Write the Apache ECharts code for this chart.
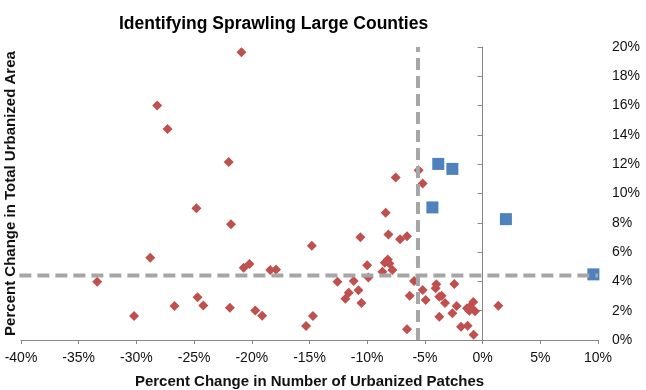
<!DOCTYPE html>
<html>
<head>
    <meta charset="UTF-8">
    <title>Identifying Sprawling Large Counties</title>
    <script src="https://cdn.jsdelivr.net/npm/echarts@6/dist/echarts.min.js"></script>
    <style>
    html, body { margin: 0; padding: 0; background: #fff; }
    #chart { width: 646px; height: 390px; }
    </style>
</head>
<body>
    <div id="chart"></div>
    <script type="text/javascript">
    // [patch change %, area change %]
    var otherCounties = [
        [-20.9, 19.65], [-28.2, 16.0], [-27.3, 14.4], [-22.0, 12.15], [-24.8, 9.0],
        [-21.8, 7.9], [-14.8, 6.43], [-28.8, 5.61], [-20.7, 4.93], [-20.2, 5.18],
        [-18.4, 4.77], [-17.9, 4.82], [-33.4, 3.97], [-24.7, 2.91], [-24.2, 2.36],
        [-26.7, 2.32], [-21.9, 2.2], [-19.7, 2.02], [-19.1, 1.66], [-30.2, 1.64],
        [-14.7, 1.64], [-15.3, 0.95],
        [-7.53, 11.09], [-5.54, 11.59], [-5.19, 10.68], [-8.4, 8.68], [-10.59, 7.02],
        [-8.16, 7.2], [-7.15, 6.88], [-6.55, 7.09], [-10.0, 5.11], [-8.48, 5.27],
        [-8.22, 5.5], [-8.08, 5.23], [-8.68, 4.66], [-7.82, 4.77], [-9.9, 4.27],
        [-12.58, 3.98], [-11.17, 4.02], [-5.94, 4.02], [-11.6, 3.22], [-10.76, 3.39],
        [-11.89, 2.82], [-10.5, 2.52], [-5.19, 3.41], [-6.32, 3.02], [-4.93, 2.73],
        [-4.01, 3.8], [-4.07, 3.54], [-2.45, 3.82], [-3.75, 2.95], [-3.55, 3.02],
        [-3.26, 2.52], [-2.25, 2.32], [-2.62, 1.82], [-3.75, 1.59], [-1.35, 2.16],
        [-1.09, 2.27], [-0.81, 2.59], [-0.66, 1.96], [-1.15, 2.0], [-1.87, 0.91],
        [-1.3, 0.98], [-0.78, 0.36], [-6.55, 0.73], [1.36, 2.34]
    ];
    var sprawlingCounties = [
        [-3.84, 12.02], [-2.62, 11.68], [-4.35, 9.05], [2.02, 8.25], [9.6, 4.48]
    ];

    // cutoff lines
    var cutoffX = -5.6;
    var cutoffY = 4.4;
    var hLineX = [-41.7, 10];
    var vLineY = [0, 20];

    var xRange = [-40, 10, 5];
    var yRange = [0, 20, 2];

    var chart = echarts.init(document.getElementById('chart'));
    var dash = {color: '#a6a6a6', width: 4, type: [12, 6]};
    var font = '"Liberation Sans", Arial, sans-serif';
    var axisGray = '#868686';

    var option = {
        animation: false,
        textStyle: {fontFamily: font},
        title: {
            text: 'Identifying Sprawling Large Counties',
            left: 114,
            top: 10,
            textStyle: {
                fontFamily: font,
                fontSize: 17.5,
                fontWeight: 'bold',
                color: '#000'
            }
        },
        grid: {left: 21, right: 48, top: 47, bottom: 50, outerBoundsMode: 'none'},
        xAxis: {
            type: 'value',
            min: xRange[0], max: xRange[1], interval: xRange[2],
            name: 'Percent Change in Number of Urbanized Patches',
            nameLocation: 'middle',
            nameGap: 34,
            nameTextStyle: {fontSize: 15, fontWeight: 'bold', color: '#111'},
            axisLine: {onZero: false, lineStyle: {color: axisGray}},
            axisTick: {length: 4, lineStyle: {color: axisGray}},
            axisLabel: {formatter: '{value}%', fontSize: 14, color: '#111', margin: 11},
            splitLine: {show: false}
        },
        yAxis: [{
            type: 'value',
            position: 'right',
            min: yRange[0], max: yRange[1], interval: yRange[2],
            axisLine: {show: false, onZero: false},
            axisTick: {show: false},
            axisLabel: {formatter: '{value}%', fontSize: 14, color: '#111', margin: 14},
            splitLine: {show: false}
        }, {
            type: 'value',
            position: 'left',
            min: yRange[0], max: yRange[1], interval: yRange[2],
            axisLine: {show: true, onZero: true, onZeroAxisIndex: 0, lineStyle: {color: axisGray}},
            axisTick: {show: true, length: 5, lineStyle: {color: axisGray}},
            axisLabel: {show: false},
            splitLine: {show: false}
        }, {
            type: 'value',
            position: 'left',
            min: yRange[0], max: yRange[1],
            name: 'Percent Change in Total Urbanized Area',
            nameLocation: 'middle',
            nameGap: 3,
            nameTextStyle: {fontSize: 15, fontWeight: 'bold', color: '#111'},
            axisLine: {show: false, onZero: false},
            axisTick: {show: false},
            axisLabel: {show: false},
            splitLine: {show: false}
        }],
        series: [{
            type: 'scatter',
            data: otherCounties,
            symbol: 'diamond',
            symbolSize: 10,
            itemStyle: {color: '#c0504d', opacity: 1},
            z: 2
        }, {
            type: 'scatter',
            data: sprawlingCounties,
            symbol: 'rect',
            symbolSize: 12,
            itemStyle: {color: '#4f81bd', opacity: 1},
            z: 2
        }, {
            type: 'line',
            data: [[hLineX[0], cutoffY], [hLineX[1], cutoffY]],
            clip: false,
            symbol: 'none',
            lineStyle: dash,
            z: 5
        }, {
            type: 'line',
            data: [[cutoffX, vLineY[0]], [cutoffX, vLineY[1]]],
            clip: false,
            symbol: 'none',
            lineStyle: dash,
            z: 5
        }]
    };
    chart.setOption(option);
    </script>
</body>
</html>
